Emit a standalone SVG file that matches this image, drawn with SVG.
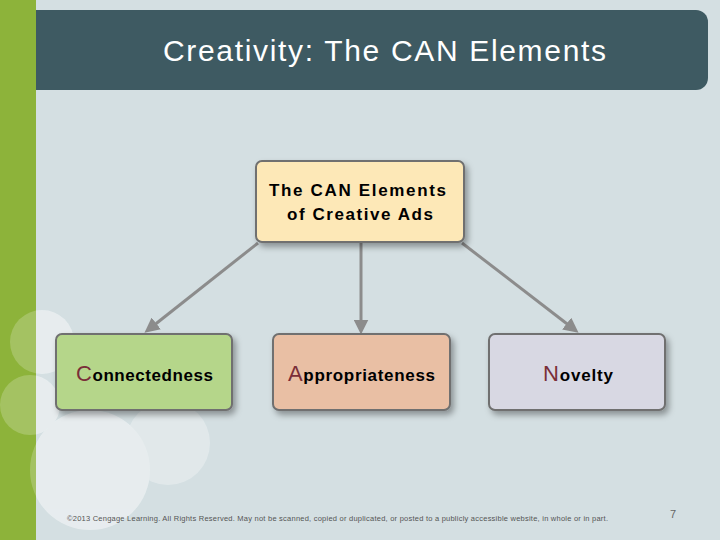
<svg xmlns="http://www.w3.org/2000/svg" width="720" height="540" viewBox="0 0 720 540">
<style>
.n{stroke:#6f6f6f;stroke-width:2}
.t{font-family:"Liberation Sans",Arial,sans-serif;font-weight:bold;font-size:17px;fill:#000}
.r{fill:#7a2e38;font-weight:normal;font-size:22px}
.c{stroke:#8c8c8c;stroke-width:3;fill:none;marker-end:url(#a)}
</style>
<defs>
<marker id="a" markerWidth="5" markerHeight="5" refX="3.5" refY="2.5" orient="auto"><path d="M0,0L5,2.5L0,5z" fill="#8c8c8c"/></marker>
<filter id="s" x="-10%" y="-10%" width="130%" height="140%"><feDropShadow dx="3" dy="4" stdDeviation="3" flood-opacity="0.35"/></filter>
</defs>
<rect width="720" height="540" fill="#d4dfe2"/>
<g fill="#ffffff" opacity="0.3">
<circle cx="42" cy="342" r="32"/><circle cx="30" cy="405" r="30"/><circle cx="90" cy="470" r="60"/><circle cx="168" cy="443" r="42"/><circle cx="92" cy="370" r="30"/>
</g>
<rect width="36" height="540" fill="#8db33a"/>
<g fill="#ffffff" opacity="0.2"><circle cx="42" cy="342" r="32"/><circle cx="30" cy="405" r="30"/><circle cx="90" cy="470" r="60"/></g>
<path d="M36,10H696a12,12 0 0 1 12,12V78a12,12 0 0 1-12,12H36z" fill="#3e5a62"/>
<text x="163" y="61" textLength="443" font-family="Liberation Sans,Arial,sans-serif" font-size="30" fill="#fff">Creativity: The CAN Elements</text>
<g id="connectors">
<line class="c" x1="258" y1="243" x2="148" y2="330"/>
<line class="c" x1="361" y1="243" x2="361" y2="330"/>
<line class="c" x1="462" y1="243" x2="575" y2="330"/>
</g>
<g id="root"><rect class="n" x="256" y="161" width="208" height="81" rx="6" fill="#fde8b7" filter="url(#s)"/>
<text class="t" x="269" y="196" textLength="177" font-size="18">The CAN Elements</text>
<text class="t" x="287" y="220" textLength="146" font-size="18">of Creative Ads</text></g>
<g id="c"><rect class="n" x="56" y="334" width="176" height="76" rx="6" fill="#b5d68a" filter="url(#s)"/>
<text class="t" x="76" y="381" textLength="137"><tspan class="r">C</tspan>onnectedness</text></g>
<g id="a2"><rect class="n" x="273" y="334" width="177" height="76" rx="6" fill="#e9bfa4" filter="url(#s)"/>
<text class="t" x="288" y="381" textLength="147"><tspan class="r">A</tspan>ppropriateness</text></g>
<g id="nv"><rect class="n" x="489" y="334" width="176" height="76" rx="6" fill="#d8d8e3" filter="url(#s)"/>
<text class="t" x="543" y="381" textLength="70"><tspan class="r">N</tspan>ovelty</text></g>
<text x="67" y="521" textLength="541" font-family="Liberation Sans,Arial,sans-serif" font-size="7.5" fill="#555">©2013 Cengage Learning. All Rights Reserved. May not be scanned, copied or duplicated, or posted to a publicly accessible website, in whole or in part.</text>
<text x="670" y="518" font-family="Liberation Sans,Arial,sans-serif" font-size="11" fill="#666">7</text>
</svg>
